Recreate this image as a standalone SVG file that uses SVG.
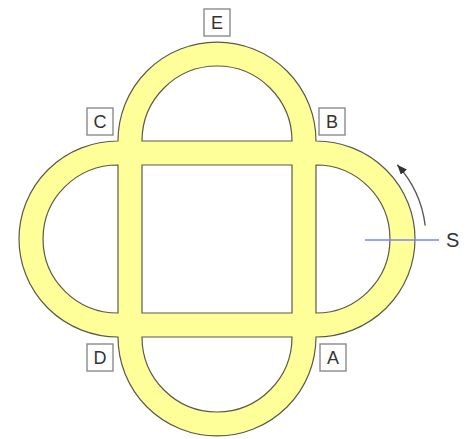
<svg xmlns="http://www.w3.org/2000/svg" width="470" height="439" viewBox="0 0 470 439">
<style>
.lbl rect{fill:#fff;stroke:#8a8a8a;stroke-width:1.4}
.lbl text{font-family:"Liberation Sans",Arial,sans-serif;font-size:18px;fill:#333;text-anchor:middle;dominant-baseline:central}
.shape{fill:#ffff99;fill-rule:evenodd;stroke:#5a5a4a;stroke-width:1.2}
</style>
<defs>
<marker id="ah" markerUnits="userSpaceOnUse" markerWidth="11" markerHeight="9" refX="10" refY="4" orient="auto">
<path d="M0,0 L10,4 L0,8 z" fill="#333"/>
</marker>
</defs>
<rect width="470" height="439" fill="#fff"/>
<g id="track">
<path class="shape" d="M118,141 A99,99 0 0 1 316,141 A99,98 0 0 1 316,337 A99,99 0 0 1 118,337 A99,98 0 0 1 118,141 Z
M142,165 H292 V313 H142 Z
M142,141 A75,75 0 0 1 292,141 Z
M316,165 A74,74 0 0 1 316,313 Z
M292,337 A75,75 0 0 1 142,337 Z
M118,313 A75,74 0 0 1 118,165 Z"/>
</g>
<g id="connectors">
<path d="M425.2,225.6 A110,110 0 0 0 397.2,164.8" fill="none" stroke="#555" stroke-width="1.3" marker-end="url(#ah)"/>
<line x1="365" y1="240" x2="439" y2="240" stroke="#7f7fff" stroke-width="1.3"/>
</g>
<g id="E" class="lbl"><rect x="204" y="9" width="26" height="27"/><text x="217" y="23">E</text></g>
<g id="C" class="lbl"><rect x="87" y="108" width="26" height="27"/><text x="100" y="122">C</text></g>
<g id="B" class="lbl"><rect x="319" y="108" width="26" height="27"/><text x="332" y="122">B</text></g>
<g id="D" class="lbl"><rect x="87" y="344" width="26" height="27"/><text x="100" y="358">D</text></g>
<g id="A" class="lbl"><rect x="320" y="344" width="26" height="27"/><text x="333" y="358">A</text></g>
<g id="S"><text x="446" y="247" font-family="Liberation Sans,Arial,sans-serif" font-size="20" fill="#333">S</text></g>
</svg>
